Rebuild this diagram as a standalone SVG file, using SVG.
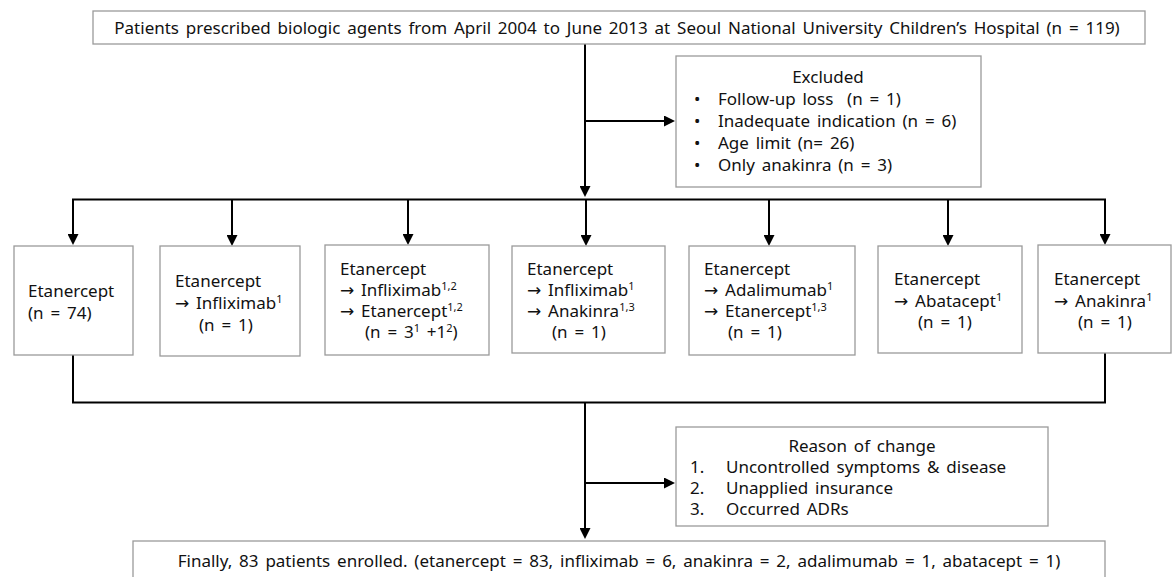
<svg xmlns="http://www.w3.org/2000/svg" width="1176" height="577" viewBox="0 0 1176 577">
  <defs>
    <marker id="arr" viewBox="0 0 11 11" markerWidth="11" markerHeight="11" refX="8" refY="5.5" orient="auto" markerUnits="userSpaceOnUse">
      <path d="M0,0 L11,5.5 L0,11 z" fill="#000"/>
    </marker>
    <style>
      .box { fill: #fff; stroke: #9a9a9a; stroke-width: 1.3; }
      .ln { fill: none; stroke: #000; stroke-width: 2; }
      .ar { fill: none; stroke: #000; stroke-width: 2; marker-end: url(#arr); }
      text { font-family: "Noto Sans", "DejaVu Sans", sans-serif; font-size: 17px; fill: #111; word-spacing: 2.4px; }
      .c { text-anchor: middle; }
      .sup { font-size: 11px; }
    </style>
  </defs>

  <g id="connectors">
    <line class="ar" x1="585" y1="44" x2="585" y2="194"/>
    <line class="ar" x1="585" y1="121" x2="672" y2="121"/>
    <line class="ln" x1="72" y1="199.5" x2="1106" y2="199.5"/>
    <line class="ar" x1="73" y1="199" x2="73" y2="242"/>
    <line class="ar" x1="232" y1="199" x2="232" y2="243"/>
    <line class="ar" x1="408" y1="199" x2="408" y2="242"/>
    <line class="ar" x1="586" y1="199" x2="586" y2="243"/>
    <line class="ar" x1="769" y1="199" x2="769" y2="243"/>
    <line class="ar" x1="948" y1="199" x2="948" y2="243"/>
    <line class="ar" x1="1105" y1="199" x2="1105" y2="242"/>
    <polyline class="ln" points="73,355 73,402.5 1105,402.5 1105,353"/>
    <line class="ar" x1="585" y1="402" x2="585" y2="536"/>
    <line class="ar" x1="585" y1="483" x2="672" y2="483"/>
  </g>

  <g id="top">
    <rect class="box" x="93" y="11" width="1052" height="33"/>
    <text class="c" x="617" y="34">Patients prescribed biologic agents from April 2004 to June 2013 at Seoul National University Children’s Hospital (n = 119)</text>
  </g>

  <g id="excluded">
    <rect class="box" x="676" y="56" width="305" height="131"/>
    <text class="c" x="828" y="83">Excluded</text>
    <text x="694" y="105">•</text><text x="718" y="105" xml:space="preserve">Follow-up loss  (n = 1)</text>
    <text x="694" y="127">•</text><text x="718" y="127">Inadequate indication (n = 6)</text>
    <text x="694" y="149">•</text><text x="718" y="149">Age limit (n= 26)</text>
    <text x="694" y="171">•</text><text x="718" y="171">Only anakinra (n = 3)</text>
  </g>

  <g id="b1">
    <rect class="box" x="14" y="246" width="119" height="109"/>
    <text x="28" y="297">Etanercept</text>
    <text x="28" y="319">(n = 74)</text>
  </g>

  <g id="b2">
    <rect class="box" x="160" y="246" width="140" height="110"/>
    <text x="175" y="287">Etanercept</text>
    <text x="175" y="309">→ Infliximab<tspan class="sup" dy="-6">1</tspan></text>
    <text x="199" y="331">(n = 1)</text>
  </g>

  <g id="b3">
    <rect class="box" x="325" y="245" width="164" height="110"/>
    <text x="340" y="275">Etanercept</text>
    <text x="340" y="296">→ Infliximab<tspan class="sup" dy="-6">1,2</tspan></text>
    <text x="340" y="317">→ Etanercept<tspan class="sup" dy="-6">1,2</tspan></text>
    <text x="365" y="338">(n = 3<tspan class="sup" dy="-6">1</tspan><tspan dy="6"> +1</tspan><tspan class="sup" dy="-6">2</tspan><tspan dy="6">)</tspan></text>
  </g>

  <g id="b4">
    <rect class="box" x="512" y="246" width="153" height="107"/>
    <text x="527" y="275">Etanercept</text>
    <text x="527" y="296">→ Infliximab<tspan class="sup" dy="-6">1</tspan></text>
    <text x="527" y="317">→ Anakinra<tspan class="sup" dy="-6">1,3</tspan></text>
    <text x="552" y="338">(n = 1)</text>
  </g>

  <g id="b5">
    <rect class="box" x="689" y="246" width="166" height="109"/>
    <text x="704" y="275">Etanercept</text>
    <text x="704" y="296">→ Adalimumab<tspan class="sup" dy="-6">1</tspan></text>
    <text x="704" y="317">→ Etanercept<tspan class="sup" dy="-6">1,3</tspan></text>
    <text x="728" y="338">(n = 1)</text>
  </g>

  <g id="b6">
    <rect class="box" x="878" y="246" width="144" height="107"/>
    <text x="894" y="285">Etanercept</text>
    <text x="894" y="307">→ Abatacept<tspan class="sup" dy="-6">1</tspan></text>
    <text x="918" y="328">(n = 1)</text>
  </g>

  <g id="b7">
    <rect class="box" x="1038" y="245" width="133" height="108"/>
    <text x="1054" y="285">Etanercept</text>
    <text x="1054" y="307">→ Anakinra<tspan class="sup" dy="-6">1</tspan></text>
    <text x="1078" y="328">(n = 1)</text>
  </g>

  <g id="reason">
    <rect class="box" x="676" y="427" width="372" height="99"/>
    <text class="c" x="862" y="452">Reason of change</text>
    <text x="690" y="473">1.</text><text x="726" y="473">Uncontrolled symptoms &amp; disease</text>
    <text x="690" y="494">2.</text><text x="726" y="494">Unapplied insurance</text>
    <text x="690" y="515">3.</text><text x="726" y="515">Occurred ADRs</text>
  </g>

  <g id="final">
    <rect class="box" x="133" y="541" width="972" height="45"/>
    <text class="c" x="619" y="567">Finally, 83 patients enrolled. (etanercept = 83, infliximab = 6, anakinra = 2, adalimumab = 1, abatacept = 1)</text>
  </g>
</svg>
